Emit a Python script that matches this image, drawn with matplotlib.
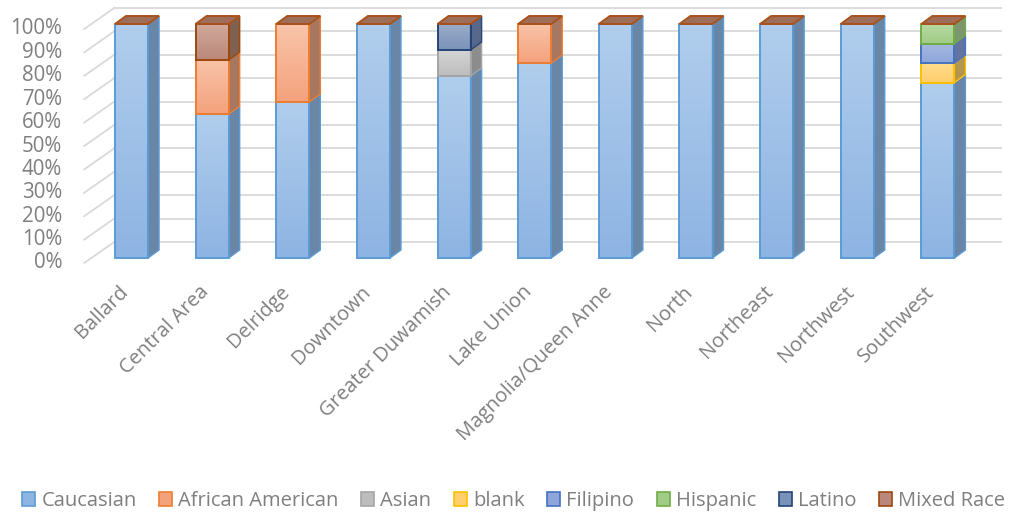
import matplotlib
matplotlib.use("Agg")
import matplotlib.pyplot as plt
import matplotlib.transforms as mtransforms
from matplotlib.patches import Polygon, Rectangle, Patch
from matplotlib.colors import LinearSegmentedColormap
import numpy as np

plt.rcParams['font.family'] = ['Open Sans', 'DejaVu Sans']

# data (share of each group per area)
areas = ['Ballard', 'Central Area', 'Delridge', 'Downtown', 'Greater Duwamish',
         'Lake Union', 'Magnolia/Queen Anne', 'North', 'Northeast', 'Northwest',
         'Southwest']
groups = ['Caucasian', 'African American', 'Asian', 'blank', 'Filipino',
          'Hispanic', 'Latino', 'Mixed Race']
caucasian = [1.0, 0.615, 0.667, 1.0, 0.778, 0.833, 1.0, 1.0, 1.0, 1.0, 0.75]
african_american = [0, 0.231, 0.333, 0, 0, 0.167, 0, 0, 0, 0, 0]
asian = [0, 0, 0, 0, 0.111, 0, 0, 0, 0, 0, 0]
blank = [0, 0, 0, 0, 0, 0, 0, 0, 0, 0, 0.0833]
filipino = [0, 0, 0, 0, 0, 0, 0, 0, 0, 0, 0.0833]
hispanic = [0, 0, 0, 0, 0, 0, 0, 0, 0, 0, 0.0833]
latino = [0, 0, 0, 0, 0.111, 0, 0, 0, 0, 0, 0]
mixed_race = [0, 0.154, 0, 0, 0, 0, 0, 0, 0, 0, 0]
yticks = [0, 0.1, 0.2, 0.3, 0.4, 0.5, 0.6, 0.7, 0.8, 0.9, 1.0]

series = [caucasian, african_american, asian, blank, filipino, hispanic, latino, mixed_race]

# edge, gradient top, gradient bottom, side face
styles = [
    ('#5B9BD5', '#B0CDEC', '#8EB4E3', '#6A86A6'),
    ('#ED7D31', '#F9C4AA', '#F4A27C', '#A8775F'),
    ('#A5A5A5', '#D4D4D4', '#BDBDBD', '#8C8C8C'),
    ('#FFC000', '#FFDC8C', '#FFCF6E', '#B29650'),
    ('#4472C4', '#A6B8E0', '#8EA6DA', '#6474A0'),
    ('#70AD47', '#B8D8A2', '#A0CC86', '#7D9670'),
    ('#264478', '#9AACC8', '#7B92B8', '#58688A'),
    ('#9E480E', '#D2AA9C', '#B9887A', '#80604F'),
]
cap_color = '#9E6E5A'
grid_color = '#D9D9D9'
text_color = '#7F7F7F'

W, H = 1013, 515
fig = plt.figure(figsize=(W / 100, H / 100), dpi=100)
ax_l, ax_w, ax_b, ax_h = 91.2, 887.0, 257.0, 234.0
ax = fig.add_axes([ax_l / W, ax_b / H, ax_w / W, ax_h / H])
ax.set_xlim(-0.5, 10.5)
ax.set_ylim(0, 1)
ax.axis('off')

px_x = ax_w / 11.0
px_y = ax_h
# depth offsets (pixels -> data units)
bar_dx, bar_dy = 11 / px_x, 8 / px_y
back_dx, back_dy = 23 / px_x, 16 / px_y
front_dx, front_dy = -7 / px_x, -5 / px_y
width = 0.41

# walls: back gridlines + slanted left-wall lines
for v in yticks:
    ax.plot([-0.5 + back_dx, 10.5 + back_dx], [v + back_dy, v + back_dy],
            color=grid_color, lw=1.3, clip_on=False, zorder=1)
    ax.plot([-0.5 + front_dx, -0.5 + back_dx], [v + front_dy, v + back_dy],
            color=grid_color, lw=1.3, clip_on=False, zorder=1)
    ax.text(-0.5 + front_dx - 22 / px_x, v + front_dy, '{:.0%}'.format(v),
            ha='right', va='center', fontsize=14.8, color=text_color)

# bars
x = np.arange(len(areas))
bottom = np.zeros(len(areas))
for s, vals in enumerate(series):
    edge, c_top, c_bot, side = styles[s]
    cmap = LinearSegmentedColormap.from_list('g%d' % s, [c_bot, c_top])
    for i, v in enumerate(vals):
        b = bottom[i]
        t = b + v
        x0, x1 = x[i] - width / 2, x[i] + width / 2
        z = 3 + i * 0.01
        if v > 0:
            grad = np.linspace(0, 1, 50).reshape(-1, 1)
            ax.imshow(grad, cmap=cmap, extent=(x0, x1, b, t), origin='lower',
                      aspect='auto', zorder=z, clip_on=False)
            ax.add_patch(Rectangle((x0, b), width, v, fill=False, ec=edge,
                                   lw=1.4, zorder=z + 0.002, clip_on=False))
            ax.add_patch(Polygon([(x1, b), (x1 + bar_dx, b + bar_dy),
                                  (x1 + bar_dx, t + bar_dy), (x1, t)],
                                 closed=True, fc=side, ec=edge, lw=1.0,
                                 zorder=z + 0.001, clip_on=False))
        if s == len(series) - 1:
            ax.add_patch(Polygon([(x0, t), (x1, t), (x1 + bar_dx, t + bar_dy),
                                  (x0 + bar_dx, t + bar_dy)], closed=True,
                                 fc=cap_color, ec='#A9521A', lw=1.4,
                                 zorder=z + 0.003, clip_on=False))
    bottom += np.array(vals)

# category labels
lab_tr = mtransforms.offset_copy(ax.transData, fig=fig, x=-6, y=-31, units='dots')
for i, name in enumerate(areas):
    ax.text(x[i], 0, name, rotation=45, rotation_mode='anchor', ha='right',
            va='center', fontsize=14.5, color=text_color, transform=lab_tr)

# legend
handles = [Patch(facecolor=st[2], edgecolor=st[0], lw=1.2) for st in styles]
fig.legend(handles, groups, loc='center', bbox_to_anchor=(0.507, 14 / H), ncol=8,
           frameon=False, fontsize=14.5, labelcolor=text_color,
           handlelength=0.65, handleheight=0.65, handletextpad=0.3,
           columnspacing=1.12, borderaxespad=0)

fig.savefig('out.png', dpi=100)
